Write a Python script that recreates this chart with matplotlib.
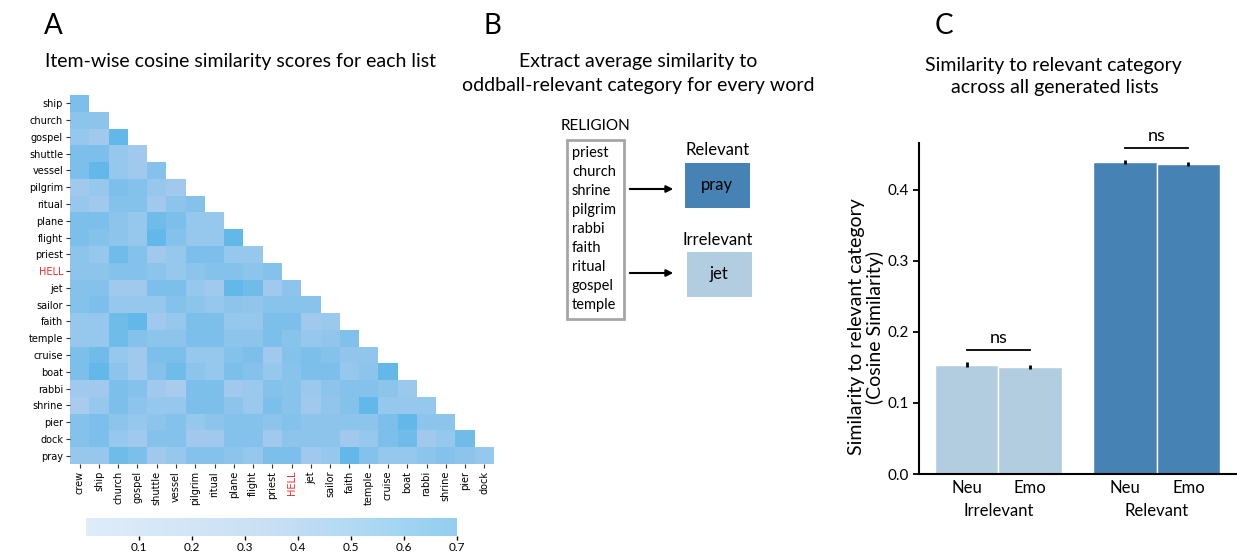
import numpy as np
import matplotlib
matplotlib.use('Agg')
import matplotlib.pyplot as plt
from matplotlib.colors import LinearSegmentedColormap
from matplotlib.patches import Rectangle

plt.rcParams['font.family'] = ['Lato', 'DejaVu Sans']

# ---- data ----
words = ['crew', 'ship', 'church', 'gospel', 'shuttle', 'vessel', 'pilgrim', 'ritual',
         'plane', 'flight', 'priest', 'HELL', 'jet', 'sailor', 'faith', 'temple',
         'cruise', 'boat', 'rabbi', 'shrine', 'pier', 'dock', 'pray']

# lower triangle: row i holds similarity of words[i+1] with words[0..i]
sim_rows = [
    [0.52],
    [0.44, 0.44],
    [0.40, 0.36, 0.60],
    [0.52, 0.52, 0.40, 0.36],
    [0.52, 0.60, 0.40, 0.36, 0.48],
    [0.36, 0.40, 0.52, 0.48, 0.40, 0.36],
    [0.40, 0.36, 0.48, 0.48, 0.36, 0.44, 0.48],
    [0.52, 0.52, 0.44, 0.40, 0.56, 0.52, 0.40, 0.40],
    [0.52, 0.48, 0.44, 0.40, 0.60, 0.48, 0.40, 0.40, 0.60],
    [0.44, 0.40, 0.56, 0.48, 0.36, 0.40, 0.52, 0.52, 0.40, 0.40],
    [0.44, 0.44, 0.48, 0.48, 0.44, 0.40, 0.44, 0.48, 0.48, 0.44, 0.48],
    [0.48, 0.48, 0.36, 0.36, 0.52, 0.52, 0.40, 0.36, 0.60, 0.56, 0.36, 0.44],
    [0.48, 0.52, 0.40, 0.40, 0.40, 0.48, 0.44, 0.40, 0.44, 0.42, 0.46, 0.46, 0.46],
    [0.40, 0.40, 0.56, 0.60, 0.36, 0.40, 0.52, 0.52, 0.40, 0.40, 0.52, 0.52, 0.36, 0.38],
    [0.40, 0.40, 0.56, 0.48, 0.44, 0.44, 0.52, 0.52, 0.44, 0.44, 0.52, 0.46, 0.40, 0.42, 0.50],
    [0.52, 0.56, 0.40, 0.36, 0.52, 0.52, 0.40, 0.40, 0.48, 0.52, 0.36, 0.48, 0.52, 0.48, 0.42, 0.42],
    [0.52, 0.60, 0.44, 0.36, 0.48, 0.56, 0.44, 0.40, 0.52, 0.48, 0.40, 0.46, 0.52, 0.52, 0.40, 0.44, 0.60],
    [0.36, 0.36, 0.52, 0.48, 0.36, 0.32, 0.52, 0.52, 0.36, 0.38, 0.48, 0.46, 0.38, 0.44, 0.48, 0.48, 0.44, 0.38],
    [0.32, 0.40, 0.52, 0.44, 0.40, 0.40, 0.52, 0.52, 0.44, 0.38, 0.52, 0.46, 0.36, 0.42, 0.48, 0.60, 0.40, 0.40, 0.40],
    [0.48, 0.52, 0.44, 0.40, 0.44, 0.48, 0.40, 0.44, 0.48, 0.48, 0.44, 0.48, 0.44, 0.44, 0.44, 0.44, 0.52, 0.60, 0.44, 0.44],
    [0.48, 0.52, 0.40, 0.36, 0.48, 0.48, 0.36, 0.36, 0.48, 0.48, 0.36, 0.44, 0.44, 0.44, 0.36, 0.40, 0.52, 0.56, 0.36, 0.40, 0.56],
    [0.40, 0.40, 0.56, 0.52, 0.36, 0.40, 0.48, 0.48, 0.44, 0.40, 0.52, 0.52, 0.36, 0.40, 0.60, 0.48, 0.40, 0.40, 0.44, 0.48, 0.44, 0.40],
]

religion_words = ['priest', 'church', 'shrine', 'pilgrim', 'rabbi', 'faith', 'ritual', 'gospel', 'temple']

groups = ['Irrelevant', 'Relevant']
conditions = ['Neu', 'Emo']
irrelevant_means = [0.154, 0.151]
relevant_means = [0.439, 0.4365]
irrelevant_err = [0.003, 0.003]
relevant_err = [0.003, 0.003]

# ---- figure ----
W, H = 1237, 554
fig = plt.figure(figsize=(W / 100, H / 100), dpi=100)

def px(x0, y0, x1, y1):
    return [x0 / W, 1 - y1 / H, (x1 - x0) / W, (y1 - y0) / H]

# overlay in pixel coordinates for titles and panel B
ov = fig.add_axes([0, 0, 1, 1])
ov.set_xlim(0, W)
ov.set_ylim(H, 0)
ov.axis('off')

# ---- Panel A: heatmap ----
n = len(sim_rows)
M = np.full((n, n), np.nan)
for i, row in enumerate(sim_rows):
    M[i, :len(row)] = row

cmap = LinearSegmentedColormap.from_list('sim', [
    (0.0, '#c9e0f6'), (0.457, '#a9ccee'), (0.629, '#8dc4ec'),
    (0.743, '#7bbfea'), (0.857, '#62b8e8'), (1.0, '#4aaee6')])

axA = fig.add_axes(px(70, 95, 494, 464))
mesh = axA.pcolormesh(np.ma.masked_invalid(M), cmap=cmap, vmin=0, vmax=0.7)
axA.set_xlim(0, n)
axA.set_ylim(n, 0)
for s in axA.spines.values():
    s.set_visible(False)
axA.set_xticks(np.arange(n) + 0.5)
axA.set_xticklabels(words[:-1], rotation=90, fontsize=7, family='DejaVu Sans')
axA.set_yticks(np.arange(n) + 0.5)
axA.set_yticklabels(words[1:], fontsize=7, family='DejaVu Sans')
axA.tick_params(length=3, width=0.8, color='#333333', pad=2)
for lab in axA.get_xticklabels() + axA.get_yticklabels():
    if lab.get_text() == 'HELL':
        lab.set_color('#ee2a2a')

cax = fig.add_axes(px(86, 518, 457, 536))
cb = fig.colorbar(mesh, cax=cax, orientation='horizontal')
cb.solids.set_alpha(0.6)
cb.outline.set_visible(False)
cb.set_ticks([0.1, 0.2, 0.3, 0.4, 0.5, 0.6, 0.7])
cb.ax.tick_params(labelsize=8.5, length=3, width=1, pad=1)

ov.text(44, 26, 'A', fontsize=20, va='center', ha='left')
ov.text(45, 62, 'Item-wise cosine similarity scores for each list', fontsize=14, va='center', ha='left')

# ---- Panel B: schematic ----
ov.text(483, 26, 'B', fontsize=20, va='center', ha='left')
ov.text(638, 62, 'Extract average similarity to', fontsize=14, va='center', ha='center')
ov.text(638, 86, 'oddball-relevant category for every word', fontsize=14, va='center', ha='center')

ov.text(596, 126, 'RELIGION', fontsize=11, va='center', ha='center')
ov.add_patch(Rectangle((567, 140), 57, 179, fill=False, edgecolor='#a6a6a6', lw=2))
for k, w in enumerate(religion_words):
    ov.text(572, 153 + 19 * k, w, fontsize=10.5, va='center', ha='left')

for yy in (189, 273):
    ov.annotate('', xy=(676, yy), xytext=(627, yy),
                arrowprops=dict(arrowstyle='-|>', color='black', lw=1.5, mutation_scale=10))

ov.text(718, 150, 'Relevant', fontsize=12, va='center', ha='center')
ov.add_patch(Rectangle((685, 163), 65, 45, facecolor='#4682b4', edgecolor='none'))
ov.text(717, 185, 'pray', fontsize=12, va='center', ha='center')
ov.text(718, 240, 'Irrelevant', fontsize=12, va='center', ha='center')
ov.add_patch(Rectangle((687, 252), 65, 45, facecolor='#b3cde0', edgecolor='none'))
ov.text(719, 274, 'jet', fontsize=12, va='center', ha='center')

# ---- Panel C: bars ----
ov.text(935, 26, 'C', fontsize=20, va='center', ha='left')
ov.text(1053, 65, 'Similarity to relevant category', fontsize=14, va='center', ha='center')
ov.text(1055, 88, 'across all generated lists', fontsize=14, va='center', ha='center')

axC = fig.add_axes(px(919, 143, 1236, 474))
bw = 0.4
group_x = np.arange(len(groups))
offsets = np.array([-bw / 2, bw / 2])
colors = ['#b3cde0', '#4682b4']
means = [irrelevant_means, relevant_means]
errs = [irrelevant_err, relevant_err]
tick_pos, tick_lab = [], []
for g in range(len(groups)):
    xs = group_x[g] + offsets
    axC.bar(xs, means[g], width=bw, color=colors[g], edgecolor='white', linewidth=1)
    axC.errorbar(xs, means[g], yerr=errs[g], fmt='none', ecolor='black', elinewidth=2, capsize=0)
    tick_pos += list(xs)
    tick_lab += conditions
    top = max(means[g]) + 0.02
    axC.plot([xs[0], xs[1]], [top, top], color='black', lw=1.3)
    axC.text(group_x[g], top + 0.006, 'ns', fontsize=13, ha='center', va='bottom')
    axC.text(group_x[g], -0.052, groups[g], fontsize=12, ha='center', va='center')

axC.set_xlim(-0.5, 1.5)
axC.set_ylim(0, 0.466)
axC.set_xticks(tick_pos)
axC.set_xticklabels(tick_lab, fontsize=12)
axC.tick_params(axis='x', length=0, pad=4)
axC.set_yticks([0.0, 0.1, 0.2, 0.3, 0.4])
axC.tick_params(axis='y', labelsize=11, length=4, width=1.3)
for side in ('top', 'right'):
    axC.spines[side].set_visible(False)
for side in ('left', 'bottom'):
    axC.spines[side].set_linewidth(1.5)
axC.set_ylabel('Similarity to relevant category\n(Cosine Similarity)', fontsize=14,
               va='center', linespacing=1.05)
axC.yaxis.set_label_coords(-0.166, 0.444)

fig.savefig('out.png', dpi=100)
